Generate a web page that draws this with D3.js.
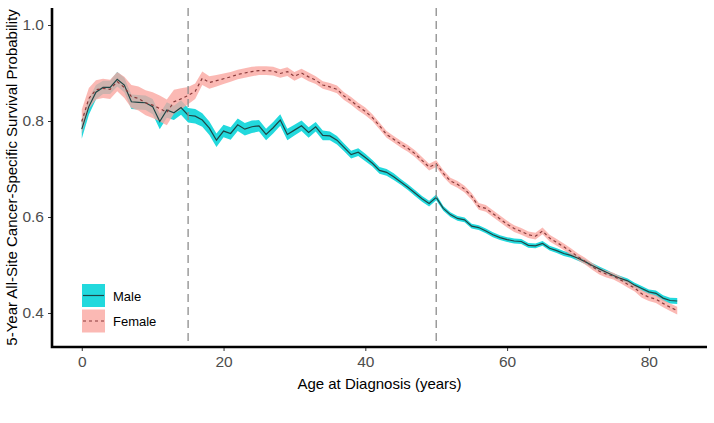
<!DOCTYPE html>
<html><head><meta charset="utf-8">
<script src="https://cdn.jsdelivr.net/npm/d3@7"></script>
<style>html,body{margin:0;padding:0;background:#fff;}svg{display:block;font-family:"Liberation Sans",Arial,sans-serif;}</style>
</head><body>
<svg id="chart" width="714" height="423"></svg>
<script>
const ages = d3.range(0, 85);
const male = [0.783,0.830,0.860,0.870,0.870,0.887,0.875,0.840,0.839,0.838,
0.830,0.799,0.823,0.817,0.828,0.812,0.810,0.802,0.785,0.760,
0.779,0.774,0.792,0.783,0.788,0.790,0.772,0.786,0.802,0.772,
0.781,0.790,0.776,0.788,0.770,0.769,0.760,0.745,0.730,0.735,
0.724,0.712,0.697,0.693,0.684,0.673,0.662,0.650,0.638,0.628,
0.641,0.618,0.605,0.597,0.594,0.581,0.578,0.571,0.563,0.557,
0.553,0.550,0.549,0.541,0.540,0.545,0.535,0.530,0.524,0.520,
0.514,0.507,0.499,0.492,0.485,0.478,0.472,0.467,0.458,0.451,
0.444,0.441,0.431,0.426,0.425];
const female = [0.799,0.847,0.865,0.868,0.866,0.882,0.870,0.851,0.847,0.838,
0.833,0.826,0.818,0.840,0.846,0.853,0.862,0.889,0.880,0.884,
0.888,0.892,0.897,0.900,0.903,0.905,0.905,0.904,0.899,0.903,
0.893,0.900,0.892,0.885,0.875,0.871,0.866,0.852,0.842,0.830,
0.820,0.807,0.790,0.772,0.762,0.752,0.743,0.732,0.718,0.704,
0.711,0.691,0.675,0.668,0.658,0.643,0.622,0.618,0.607,0.596,
0.585,0.576,0.570,0.563,0.560,0.571,0.556,0.547,0.538,0.528,
0.517,0.508,0.497,0.487,0.481,0.477,0.469,0.460,0.452,0.440,
0.433,0.429,0.420,0.412,0.405];
const maleCI = [0.020,0.017,0.015,0.014,0.014,0.015,0.015,0.015,0.015,0.015,
0.016,0.016,0.016,0.015,0.015,0.015,0.015,0.014,0.014,0.014,
0.013,0.013,0.013,0.013,0.013,0.012,0.012,0.012,0.012,0.012,
0.011,0.011,0.011,0.010,0.010,0.009,0.009,0.008,0.008,0.008,
0.008,0.007,0.007,0.007,0.007,0.006,0.006,0.006,0.006,0.006,
0.006,0.005,0.005,0.005,0.005,0.005,0.005,0.005,0.005,0.005,
0.005,0.005,0.005,0.005,0.005,0.005,0.005,0.005,0.005,0.005,
0.005,0.005,0.005,0.005,0.005,0.005,0.005,0.005,0.005,0.005,
0.005,0.006,0.006,0.006,0.006];
const femaleCI = [0.025,0.022,0.020,0.020,0.020,0.020,0.022,0.024,0.025,0.026,
0.027,0.027,0.027,0.025,0.022,0.018,0.016,0.014,0.013,0.012,
0.011,0.010,0.010,0.010,0.010,0.009,0.009,0.009,0.009,0.009,
0.009,0.009,0.009,0.008,0.008,0.008,0.008,0.008,0.008,0.008,
0.008,0.007,0.007,0.007,0.007,0.007,0.007,0.007,0.007,0.007,
0.007,0.007,0.007,0.007,0.007,0.007,0.007,0.007,0.007,0.007,
0.007,0.007,0.007,0.007,0.007,0.007,0.007,0.007,0.007,0.007,
0.007,0.007,0.007,0.007,0.007,0.007,0.007,0.007,0.007,0.008,
0.008,0.008,0.008,0.008,0.008];
const xTicks = [0, 20, 40, 60, 80];
const yTicks = [0.4, 0.6, 0.8, 1.0];
const cutoffs = [15, 50];
const seriesNames = ["Male", "Female"];

const svg = d3.select("#chart");
const L = 52, R = 707, T = 8, B = 347;
const x = d3.scaleLinear().domain([-4.2, 88.2]).range([L, R]);
const y = d3.scaleLinear().domain([1 - (B - 25) / 480, 1 + (25 - T) / 480]).range([B, T]);

const maleFill = "#22D9DD", femaleFill = "#FAA8A1", femaleOp = 0.8;
const maleLine = "#1E4646", femaleLine = "#8A3B3B";

const area = (vals, ci) => d3.area().x((d,i)=>x(ages[i])).y0((d,i)=>y(vals[i]-ci[i])).y1((d,i)=>y(vals[i]+ci[i]))(vals);
const line = (vals) => d3.line().x((d,i)=>x(ages[i])).y((d,i)=>y(vals[i]))(vals);

svg.append("path").attr("d", area(male, maleCI)).attr("fill", maleFill);
svg.append("path").attr("d", area(female, femaleCI)).attr("fill", femaleFill).attr("fill-opacity", femaleOp);
svg.append("path").attr("d", line(male)).attr("fill","none").attr("stroke", maleLine).attr("stroke-width", 1.2);
svg.append("path").attr("d", line(female)).attr("fill","none").attr("stroke", femaleLine).attr("stroke-width", 1.2).attr("stroke-dasharray","3,3");

svg.selectAll(".cut").data(cutoffs).enter().append("line")
  .attr("x1", d=>x(d)).attr("x2", d=>x(d)).attr("y1", T).attr("y2", B)
  .attr("stroke", "#8c8c8c").attr("stroke-width", 1.3).attr("stroke-dasharray", "8,5");

// axes
const xAxis = svg.append("g").attr("transform", `translate(0,${B})`)
  .call(d3.axisBottom(x).tickValues(xTicks).tickSize(4).tickPadding(5).tickFormat(d3.format("d")));
const yAxis = svg.append("g").attr("transform", `translate(${L},0)`)
  .call(d3.axisLeft(y).tickValues(yTicks).tickSize(4).tickPadding(4).tickFormat(d3.format(".1f")));
[xAxis, yAxis].forEach(g => {
  g.select(".domain").remove();
  g.selectAll(".tick line").attr("stroke", "#333").attr("stroke-width", 1);
  g.selectAll(".tick text").attr("fill", "#4D4D4D").style("font-size", "15.5px").style("font-family", "Liberation Sans, Arial, sans-serif");
});
svg.append("path").attr("d", `M${L},${T}V${B}H${R}`).attr("fill","none").attr("stroke","#000").attr("stroke-width",2.6);

svg.append("text").attr("x", (L+R)/2).attr("y", 389).attr("text-anchor","middle")
  .style("font-size","15px").attr("fill","#000").text("Age at Diagnosis (years)");
svg.append("text").attr("transform", `translate(17,${(T+B)/2}) rotate(-90)`).attr("text-anchor","middle")
  .style("font-size","15px").attr("fill","#000").text("5-Year All-Site Cancer-Specific Survival Probability");

// legend
const lg = svg.append("g").attr("transform", "translate(82,284)");
seriesNames.forEach((name, i) => {
  const g = lg.append("g").attr("transform", `translate(0,${i*25.5})`);
  g.append("rect").attr("width", 23).attr("height", 23).attr("fill", i===0 ? maleFill : femaleFill).attr("fill-opacity", i===0 ? 1 : femaleOp);
  g.append("line").attr("x1", 1).attr("x2", 22).attr("y1", 11.5).attr("y2", 11.5)
    .attr("stroke", i===0 ? maleLine : femaleLine).attr("stroke-width", 1.2).attr("stroke-dasharray", i===0 ? null : "3,3");
  g.append("text").attr("x", 31).attr("y", 16.5).style("font-size","13px").attr("fill","#000").text(name);
});
</script>
</body></html>
